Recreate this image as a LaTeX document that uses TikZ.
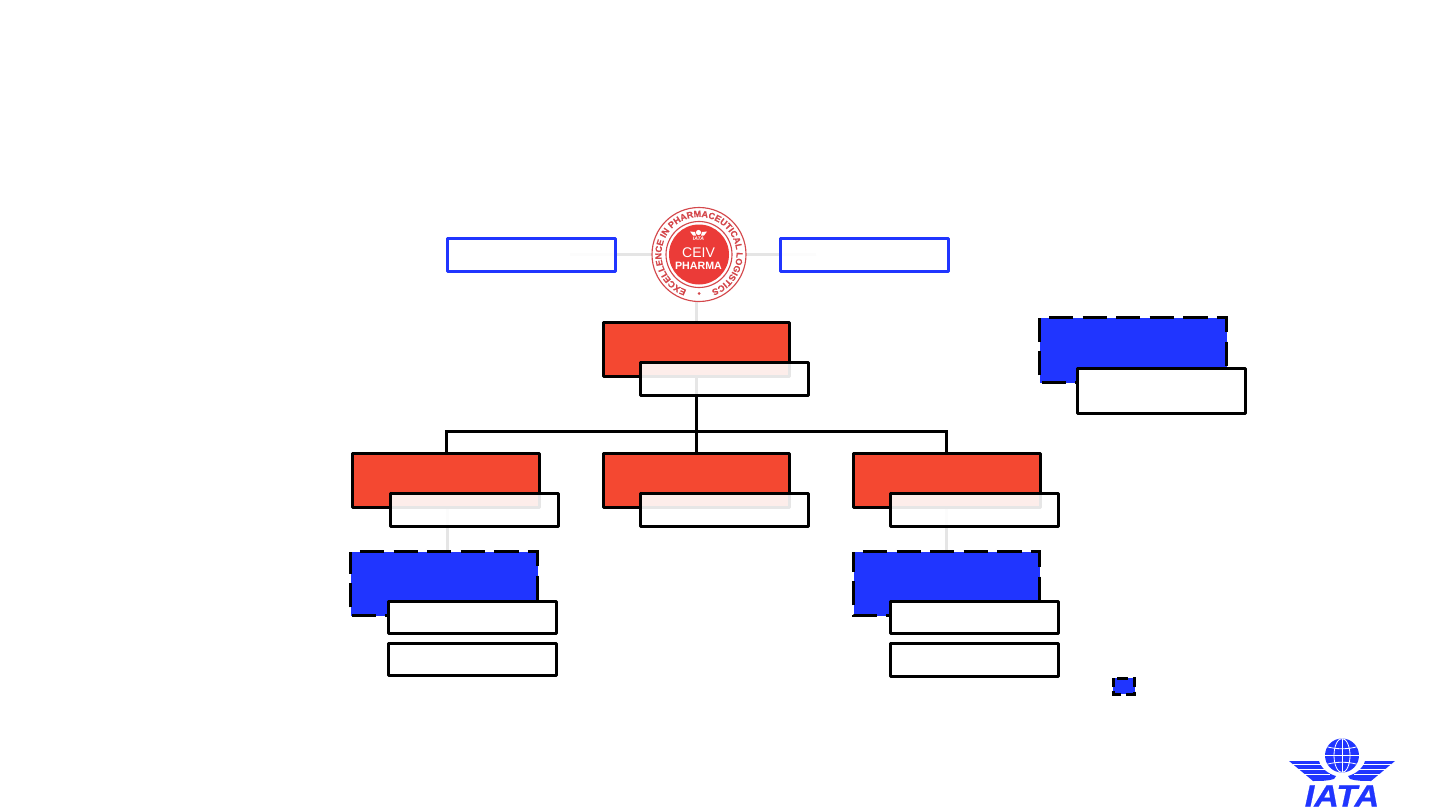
\documentclass[tikz,border=0pt]{standalone}
\usepackage{fontspec}
\setmainfont{Liberation Sans}
\newfontfamily\iatafont{Liberation Sans}[FakeStretch=1.11,FakeBold=0.8]
\newfontfamily\ringfont{Liberation Sans}[FakeBold=0.25]
\usetikzlibrary{decorations.text}
\definecolor{ibl}{HTML}{2035FF}
\definecolor{ird}{HTML}{F44831}
\definecolor{igr}{HTML}{E5E5E5}
\definecolor{ilg}{HTML}{EB3B38}
\definecolor{ilr}{HTML}{D4474B}
\tikzset{
  x=0.75pt,y=-0.75pt,
  every node/.style={inner sep=0,outer sep=0},
  box/.style args={#1x#2}{rectangle,minimum width=#1*0.75pt,minimum height=#2*0.75pt,line width=2.25pt,line join=round,anchor=north west},
  redbox/.style={box=187x54,draw=black,fill=ird},
  notebox/.style={box=168x33,draw=black,fill=white,fill opacity=0.9},
  overblue/.style={box=168x32,draw=black,fill=white},
  outbox/.style={box=168x33,draw=ibl,fill=white,fill opacity=0.9},
  bluebox/.style={box=187x64,fill=ibl},
  dashline/.style={line width=2.25pt,draw=black,dash pattern=on 18.15pt off 7.05pt,dash phase=18.15pt},
  dashsmall/.style={line width=2.25pt,draw=black,dash pattern=on 8.25pt off 3.3pt,dash phase=8.25pt},
  greyline/.style={draw=igr,line width=2.25pt},
  linkline/.style={draw=black,line width=2.25pt},
  ringline/.style={draw=ilr,line width=0.85pt},
  globeline/.style={draw=white,line width=0.6pt},
}
\begin{document}
\begin{tikzpicture}
\useasboundingbox (0,0) rectangle (1440,810);
\fill[white] (0,0) rectangle (1440,810);
% anchors
\coordinate (cl) at (570,254.5);
\coordinate (cr) at (816,254.5);
\coordinate (lgc) at (699,254.5);
\coordinate (lgb) at (696.5,300);
\coordinate (bus) at (696.5,431.5);
\coordinate (topn) at (696.5,322);
\coordinate (lb) at (447.5,507);
\coordinate (lt) at (447.5,552);
\coordinate (rb) at (946.5,507);
\coordinate (rt) at (946.5,552);
% grey connectors
\draw[greyline] (cl) -- (lgc);
\draw[greyline] (cr) -- (lgc);
\draw[greyline] (lgb) -- (topn);
\draw[greyline] (lb) -- (lt);
\draw[greyline] (rb) -- (rt);
% red boxes
\node[redbox,minimum width=186*0.75pt] (top) at (603.5,322.5) {};
\node[redbox] (ra) at (352.5,453.5) {};
\node[redbox,minimum width=186*0.75pt] (rm) at (603.5,453.5) {};
\node[redbox] (rc) at (853.5,453.5) {};
% black connectors
\draw[linkline] (top.south) -- (rm.north);
\draw[linkline] ([xshift=.375pt]ra.north) |- (bus) -| ([xshift=-.375pt]rc.north);
% outlined boxes
\node[outbox] (ol) at (447.5,238.5) {};
\node[outbox] (or) at (780.5,238.5) {};
% dashed blue
\node[bluebox,minimum height=65*0.75pt] (k1) at (1039.5,317.5) {};
\draw[dashline] (k1.north west) -- (k1.north east) -- (k1.south east) -- (k1.south west) -- cycle;
\node[bluebox] (k2) at (350.5,551.5) {};
\draw[dashline] (k2.north west) -- (k2.north east) -- (k2.south east) -- (k2.south west) -- cycle;
\node[bluebox,minimum width=186*0.75pt] (k3) at (853.5,551.5) {};
\draw[dashline] (k3.north west) -- (k3.north east) -- (k3.south east) -- (k3.south west) -- cycle;
\node[box=21.5x16,fill=ibl] (k4) at (1113,678) {};
\draw[dashsmall] (k4.north west) -- (k4.north east) -- (k4.south east) -- (k4.south west) -- cycle;
% note boxes
\node[notebox] (ntop) at (640.5,362.5) {};
\node[notebox] (na) at (390.5,493.5) {};
\node[notebox] (nm) at (640.5,493.5) {};
\node[notebox] (nc) at (890.5,493.5) {};
\node[overblue,minimum height=45*0.75pt] (nk) at (1077.5,368.5) {};
\node[overblue] (d1) at (388.5,601.5) {};
\node[overblue] (d2) at (388.5,643.5) {};
\node[overblue] (d3) at (890.5,601.5) {};
\node[overblue,minimum height=33*0.75pt] (d4) at (890.5,643.5) {};
% CEIV logo
\fill[white] (lgc) circle[radius=47.5];
\draw[ringline] (lgc) circle[radius=47];
\draw[ringline] (lgc) circle[radius=33];
\fill[ilg] (lgc) circle[radius=30];
\path[shift={(lgc)},postaction={decorate,decoration={text along path,text align=center,
  text={|\fontsize{6.75}{7.5}\ringfont\bfseries\color{ilr}|EXCELLENCE IN PHARMACEUTICAL LOGISTICS}}}]
  (100:37.5) arc[start angle=100,end angle=440,radius=37.5];
\fill[ilr] (699,293.5) circle[radius=1.5];
\node[white,font=\fontsize{10.5}{11}\selectfont] (ceiv) at (698.5,252.5) {CEIV};
\node[white,font=\fontsize{8}{9}\selectfont\bfseries] (phar) at (698.5,266) {PHARMA};
\node[white,font=\fontsize{3.8}{5}\selectfont\bfseries\itshape] (mini) at (698.5,239.2) {IATA};
\fill[white] (698.5,232.5) circle[radius=2.6];
\fill[white] (690,231.5) -- (695,232) -- (696,235.5) -- (693,235.5) -- cycle;
\fill[white] (707,231.5) -- (702,232) -- (701,235.5) -- (704,235.5) -- cycle;
% IATA logo
\fill[ibl] (1342,755.5) circle[radius=17];
\begin{scope}
\clip (1342,755.5) circle[radius=17];
\draw[globeline] (1342,738) -- (1342,773);
\draw[globeline] (1325,755.5) -- (1359,755.5);
\draw[globeline] (1342,755.5) circle[x radius=8,y radius=17];
\draw[globeline] (1326,746.5) .. controls (1336,749.5) and (1348,749.5) .. (1358,746.5);
\draw[globeline] (1326,764.5) .. controls (1336,761.5) and (1348,761.5) .. (1358,764.5);
\end{scope}
\foreach \s in {-1,1}{
  \begin{scope}[xshift=1342*0.75pt,xscale=\s]
  \fill[ibl] (53,761) -- (23,761) .. controls (21,768) and (14,774) .. (6,776)
     -- (8,779) .. controls (14,781) and (22,781) .. (29,781) -- (41,771) -- cycle;
  \draw[globeline] (49,764.6) -- (21,764.6);
  \draw[globeline] (44,769.4) -- (17,769.4);
  \draw[globeline] (38,774.2) -- (12,774.2);
  \end{scope}
}
\node[text=ibl,font=\fontsize{23}{24}\iatafont\bfseries\itshape] (iata) at (1342,796) {IATA};
\end{tikzpicture}
\end{document}
